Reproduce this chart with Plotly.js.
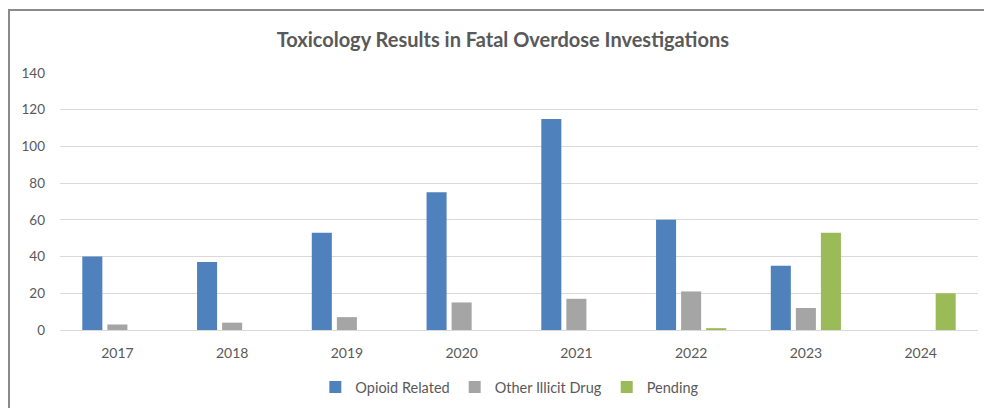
<!DOCTYPE html>
<html>
<head>
<meta charset="utf-8">
<script src="https://cdn.plot.ly/plotly-3.0.1.min.js"></script>
<style>
  html, body { margin: 0; padding: 0; background: #fff; }
  #wrap { position: relative; width: 984px; height: 408px; overflow: hidden; }
  #chart { position: absolute; left: 0; top: 0; width: 984px; height: 408px; }
  #frame { position: absolute; left: 8px; top: 9px; width: 990px; height: 420px;
           border-left: 2px solid #8a8a8a; border-top: 2px solid #8a8a8a; pointer-events: none; }
</style>
</head>
<body>
<div id="wrap">
  <div id="chart"></div>
  <div id="frame"></div>
</div>
<script>
const years = ['2017', '2018', '2019', '2020', '2021', '2022', '2023', '2024'];
const opioidRelated = [40, 37, 53, 75, 115, 60, 35, 0];
const otherIllicitDrug = [3, 4, 7, 15, 17, 21, 12, 0];
const pending = [0, 0, 0, 0, 0, 1, 53, 20];
const seriesNames = ['Opioid Related', 'Other Illicit Drug', 'Pending'];
const yTicks = [0, 20, 40, 60, 80, 100, 120, 140];

const colors = ['#4F81BD', '#A5A5A5', '#9BBB59'];
const seriesValues = [opioidRelated, otherIllicitDrug, pending];

const traces = seriesValues.map((vals, i) => ({
  type: 'bar',
  name: seriesNames[i],
  x: years,
  y: vals,
  marker: { color: colors[i] },
  hoverinfo: 'x+y+name'
}));

const font = 'Lato, "Open Sans", "DejaVu Sans", sans-serif';

const layout = {
  width: 984,
  height: 408,
  margin: { l: 60, r: 6, t: 73, b: 77 },
  paper_bgcolor: 'rgba(0,0,0,0)',
  plot_bgcolor: 'rgba(0,0,0,0)',
  font: { family: font, color: '#595959', size: 13 },
  title: {
    text: '<b>Toxicology Results in Fatal Overdose Investigations</b>',
    font: { family: font, size: 20, color: '#595959' },
    x: 0.511, xanchor: 'center',
    y: 1 - 40 / 408, yanchor: 'middle', yref: 'container'
  },
  barmode: 'group',
  bargap: 0.345,
  bargroupgap: 0.2,
  xaxis: {
    type: 'category',
    tickvals: years,
    showgrid: false,
    showline: true,
    linecolor: '#D9D9D9',
    linewidth: 1,
    ticks: '',
    ticklabelstandoff: 10,
    tickfont: { size: 14, color: '#595959' },
    zeroline: false
  },
  yaxis: {
    range: [0, 140],
    tickvals: yTicks,
    showgrid: true,
    gridcolor: '#D9D9D9',
    gridwidth: 1,
    zeroline: false,
    showline: false,
    ticks: '',
    ticklabelstandoff: 14,
    tickfont: { size: 13.5, color: '#595959' }
  },
  showlegend: true,
  legend: {
    orientation: 'h',
    x: 0.49, xanchor: 'center',
    y: -56 / 258, yanchor: 'middle',
    font: { size: 14.5, color: '#595959' },
    itemwidth: 30,
    traceorder: 'normal'
  }
};

Plotly.newPlot('chart', traces, layout, { displayModeBar: false, staticPlot: true });
</script>
</body>
</html>
